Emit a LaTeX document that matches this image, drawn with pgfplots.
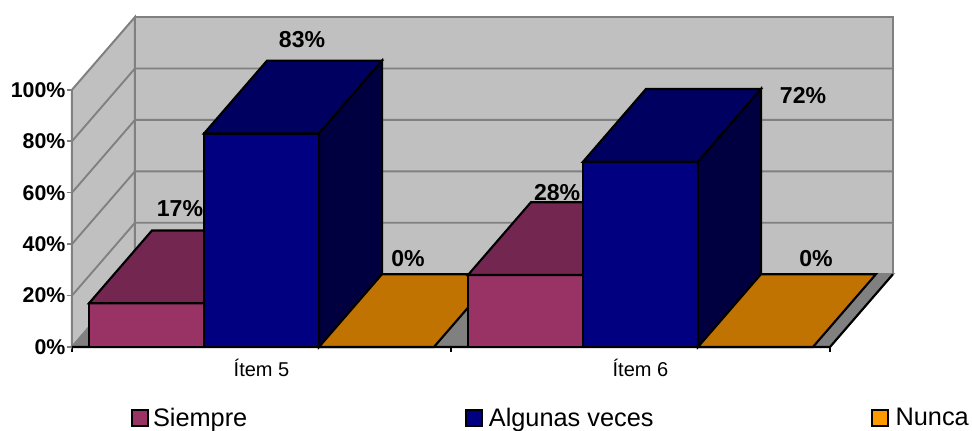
\documentclass[border=0pt]{standalone}
\usepackage{fontspec}
\setmainfont{Liberation Sans}
\usepackage{pgfplots}
\pgfplotsset{compat=1.18}
\definecolor{wall}{HTML}{C0C0C0}
\definecolor{edge}{HTML}{808080}
\definecolor{sF}{HTML}{993366}
\definecolor{sT}{HTML}{732650}
\definecolor{aF}{HTML}{000080}
\definecolor{aT}{HTML}{000060}
\definecolor{aS}{HTML}{000040}
\definecolor{nF}{HTML}{FF9900}
\definecolor{nT}{HTML}{C07300}
\begin{document}
\begin{tikzpicture}[x=1pt,y=1pt]
\path[use as bounding box] (0,0) rectangle (729,323.25);
\begin{axis}[
  at={(54pt,63pt)}, anchor=origin,
  scale only axis, width=616.5pt, height=247.5pt,
  xmin=0, xmax=2.169, ymin=0, ymax=128.3,
  clip=false,
  axis lines*=left,
  axis line style={draw=none,-},
  tick align=outside,
  major tick length=3.75pt,
  ytick={0,20,40,60,80,100},
  yticklabel={\pgfmathprintnumber{\tick}\%},
  yticklabel style={font=\fontsize{16}{16}\selectfont\bfseries, /pgf/number format/assume math mode=true, inner sep=0pt, xshift=-1pt},
  ytick style={draw=edge, line width=1.2pt},
  xtick={0,1,2}, xticklabels={,,},
  xtick style={draw=black, line width=1.2pt},
  extra x ticks={0.5,1.5},
  extra x tick labels={Ítem 5,Ítem 6},
  extra x tick style={major tick length=0pt, tick label style={font=\fontsize{15}{16}\selectfont, yshift=-5.5pt}},
  legend columns=3,
  legend cell align=left,
  legend style={
    at={(0.0718,-0.215)}, anchor=west, draw=none, fill=none, inner sep=0pt,
    font=\fontsize{19}{20}\selectfont,
    /tikz/column 2/.style={column sep=161.05pt},
    /tikz/column 4/.style={column sep=160.85pt},
  },
  legend image code/.code={
    \draw[#1, line width=1.6pt] (0.8pt,-6pt) rectangle (12.8pt,6pt);
  },
]
% walls and floor
\addplot[forget plot, fill=wall, draw=edge, line width=1.5pt] coordinates {(.1662,28.3)(2.1662,28.3)(2.1662,128.3)(.1662,128.3)} --cycle;
\addplot[forget plot, fill=wall, draw=edge, line width=1.5pt] coordinates {(0,0)(.1662,28.3)(.1662,128.3)(0,100)} --cycle;
\addplot[forget plot, fill=edge, draw=edge, line width=1.5pt] coordinates {(0,0)(2,0)(2.1662,28.3)(.1662,28.3)} --cycle;
% gridlines
\addplot[forget plot, edge, line width=1.4pt] coordinates {(0,20)(.1662,48.3)(2.1662,48.3)};
\addplot[forget plot, edge, line width=1.4pt] coordinates {(0,40)(.1662,68.3)(2.1662,68.3)};
\addplot[forget plot, edge, line width=1.4pt] coordinates {(0,60)(.1662,88.3)(2.1662,88.3)};
\addplot[forget plot, edge, line width=1.4pt] coordinates {(0,80)(.1662,108.3)(2.1662,108.3)};
% floor edges
\addplot[forget plot, black, line width=1.6pt] coordinates {(0,0)(2,0)(2.1662,28.3)};
% Item 5 Siempre 17
\addplot[forget plot, fill=sF, draw=black, line width=1.6pt] coordinates {(.0449,0)(.3483,0)(.3483,17)(.0449,17)} --cycle;
\addplot[forget plot, fill=sT, draw=black, line width=1.6pt] coordinates {(.0449,17)(.3483,17)(.5145,45.3)(.2111,45.3)} --cycle;
% Item 5 Algunas veces 83
\addplot[forget plot, fill=aF, draw=black, line width=1.6pt] coordinates {(.3483,0)(.6517,0)(.6517,83)(.3483,83)} --cycle;
\addplot[forget plot, fill=aT, draw=black, line width=1.6pt] coordinates {(.3483,83)(.6517,83)(.8179,111.3)(.5145,111.3)} --cycle;
\addplot[forget plot, fill=aS, draw=black, line width=1.6pt] coordinates {(.6517,0)(.8179,28.3)(.8179,111.3)(.6517,83)} --cycle;
% Item 5 Nunca 0
\addplot[forget plot, fill=nT, draw=black, line width=1.6pt] coordinates {(.6517,0)(.9551,0)(1.1213,28.3)(.8179,28.3)} --cycle;
% Item 6 Siempre 28
\addplot[forget plot, fill=sF, draw=black, line width=1.6pt] coordinates {(1.0449,0)(1.3483,0)(1.3483,28)(1.0449,28)} --cycle;
\addplot[forget plot, fill=sT, draw=black, line width=1.6pt] coordinates {(1.0449,28)(1.3483,28)(1.5145,56.3)(1.2111,56.3)} --cycle;
% Item 6 Algunas veces 72
\addplot[forget plot, fill=aF, draw=black, line width=1.6pt] coordinates {(1.3483,0)(1.6517,0)(1.6517,72)(1.3483,72)} --cycle;
\addplot[forget plot, fill=aT, draw=black, line width=1.6pt] coordinates {(1.3483,72)(1.6517,72)(1.8179,100.3)(1.5145,100.3)} --cycle;
\addplot[forget plot, fill=aS, draw=black, line width=1.6pt] coordinates {(1.6517,0)(1.8179,28.3)(1.8179,100.3)(1.6517,72)} --cycle;
% Item 6 Nunca 0
\addplot[forget plot, fill=nT, draw=black, line width=1.6pt] coordinates {(1.6517,0)(1.9551,0)(2.1213,28.3)(1.8179,28.3)} --cycle;
% data labels
\begin{scope}[every node/.style={font=\fontsize{17.3}{18}\selectfont\bfseries, inner sep=0pt}]
\node at (axis cs:.285,54) {17\%};
\node at (axis cs:.607,119.4) {83\%};
\node at (axis cs:.8865,34.2) {0\%};
\node at (axis cs:1.28,59.9) {28\%};
\node at (axis cs:1.929,97.6) {72\%};
\node at (axis cs:1.963,34.2) {0\%};
\end{scope}
\addlegendimage{fill=sF, draw=black}
\addlegendentry{\hspace*{0.7pt}Siempre}
\addlegendimage{fill=aF, draw=black}
\addlegendentry{\hspace*{2.5pt}Algunas veces}
\addlegendimage{fill=nF, draw=black}
\addlegendentry{\hspace*{3pt}Nunca}
\end{axis}
\end{tikzpicture}
\end{document}
